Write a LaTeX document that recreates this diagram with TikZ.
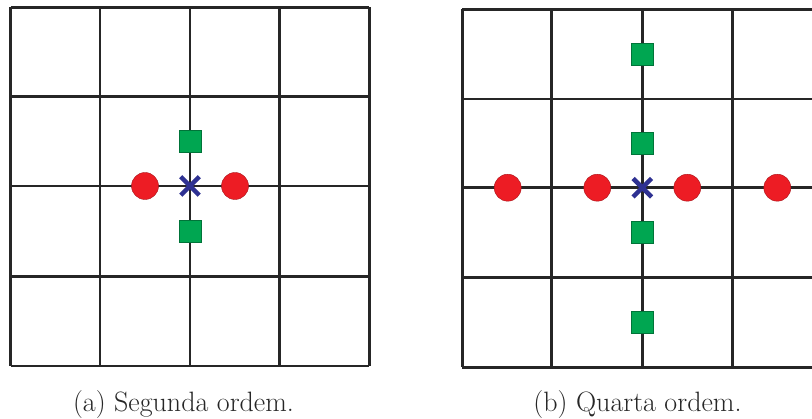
\documentclass[tikz,border=0pt]{standalone}
\usetikzlibrary{shapes.misc}
\definecolor{mred}{HTML}{ED1C24}
\definecolor{mgreen}{HTML}{00A651}
\definecolor{mblue}{HTML}{2E3192}
\tikzset{
  gridline/.style={line width=2.8pt, black!85},
  redpt/.style={circle, fill=mred, draw=mred!70!black, line width=0.4pt, minimum size=27pt, inner sep=0pt},
  greenpt/.style={rectangle, fill=mgreen, draw=mgreen!70!black, line width=0.4pt, minimum size=22pt, inner sep=0pt},
  bluept/.style={cross out, draw=mblue, line width=4.5pt, minimum size=14pt, inner sep=0pt},
  captext/.style={anchor=base, font=\fontsize{28}{32}\selectfont, text=black!85}
}
\begin{document}
\begin{tikzpicture}[x=1pt,y=-1pt]
\useasboundingbox (0,0) rectangle (812,419);
% left grid
\foreach \x in {10.7,100,190,279.3,369.3} \draw[gridline] (\x,7.3) -- (\x,366);
\foreach \y in {7.3,96.7,186,276.7,366} \draw[gridline] (10.7,\y) -- (369.3,\y);
\node[greenpt] (la1) at (190,141.3) {};
\node[greenpt] (la2) at (190,231.7) {};
\node[redpt] (lr1) at (145,186) {};
\node[redpt] (lr2) at (235,186) {};
\node[bluept] (lc) at (190,186) {};
% right grid
\begin{scope}
\clip (440,0) rectangle (812,419);
\foreach \x in {462.3,551.7,642.3,732.7,822} \draw[gridline] (\x,9.3) -- (\x,367.3);
\foreach \y in {9.3,99,187.7,277.3,367.3} \draw[gridline] (462.3,\y) -- (822,\y);
\end{scope}
\node[greenpt] (rg1) at (642.3,54.3) {};
\node[greenpt] (rg2) at (642.3,143.3) {};
\node[greenpt] (rg3) at (642.3,232.7) {};
\node[greenpt] (rg4) at (642.3,322) {};
\node[redpt] (rr1) at (507.7,187.7) {};
\node[redpt] (rr2) at (597.3,187.7) {};
\node[redpt] (rr3) at (687.3,187.7) {};
\node[redpt] (rr4) at (777.3,187.7) {};
\node[bluept] (rc) at (642.3,187.7) {};
% captions
\node[captext] (capa) at (183.5,411.5) {(a) Segunda ordem.};
\node[captext] (capb) at (637.5,411.5) {(b) Quarta ordem.};
\end{tikzpicture}
\end{document}
